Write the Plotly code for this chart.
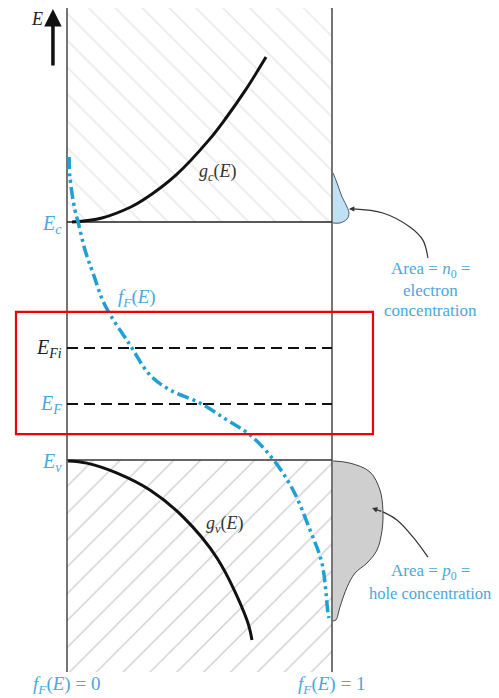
import plotly.graph_objects as go

# Energy scale: E_v = 0, E_c = 1 (arbitrary units); x = f_F(E) / g(E) scale, 0..1
E_c = 1.0
E_v = 0.0
E_Fi = 0.4706
E_F = 0.2353
E_top = 1.899
E_bot = -0.891

# Fermi-Dirac function f_F(E)
fF_E = [1.273, 1.189, 1.050, 1.000, 0.882, 0.786, 0.651, 0.483, 0.357, 0.294, 0.239,
        0.168, 0.105, 0.004, -0.126, -0.294, -0.433, -0.643, -0.664]
fF_x = [0.008, 0.011, 0.030, 0.042, 0.068, 0.098, 0.143, 0.238, 0.313, 0.389, 0.502,
        0.604, 0.691, 0.777, 0.853, 0.917, 0.962, 0.985, 0.989]

# Density of states g_c(E), g_v(E)
gc_E = [1.000, 1.017, 1.063, 1.092, 1.197, 1.345, 1.437, 1.555, 1.693]
gc_x = [0.019, 0.132, 0.241, 0.287, 0.411, 0.536, 0.600, 0.674, 0.751]
gv_E = [-0.004, -0.013, -0.055, -0.126, -0.239, -0.412, -0.672, -0.756]
gv_x = [0.004, 0.075, 0.189, 0.313, 0.438, 0.566, 0.679, 0.698]

# n0 (electron) and p0 (hole) areas outside f_F = 1
n0_E = [1.206, 1.164, 1.105, 1.063, 1.038, 1.013, 0.996, 0.996]
n0_x = [1.004, 1.019, 1.038, 1.057, 1.064, 1.057, 1.030, 1.004]
p0_E = [-0.004, -0.013, -0.050, -0.126, -0.210, -0.294, -0.378, -0.433, -0.475,
        -0.534, -0.618, -0.672, -0.676]
p0_x = [1.004, 1.068, 1.143, 1.181, 1.192, 1.189, 1.170, 1.132, 1.087, 1.057,
        1.030, 1.015, 1.004]

# leader lines
n0_lead_x = [1.362, 1.343, 1.294, 1.192, 1.079]
n0_lead_E = [0.849, 0.924, 0.979, 1.038, 1.055]
p0_lead_x = [1.362, 1.306, 1.245, 1.192]
p0_lead_E = [-0.408, -0.324, -0.252, -0.218]

BLUE = "#1f9fd4"
TXTBLUE = "#4aa8dc"
SERIF = "Liberation Serif"

fig = go.Figure()

# hatched band regions
fig.add_trace(go.Scatter(x=[0, 1, 1, 0, 0], y=[E_c, E_c, E_top, E_top, E_c],
                         fill="toself", mode="none",
                         fillpattern=dict(shape="\\", size=19, solidity=0.1,
                                          fgcolor="#d8d8d8", bgcolor="white"),
                         hoverinfo="skip"))
fig.add_trace(go.Scatter(x=[0, 1, 1, 0, 0], y=[E_bot, E_bot, E_v, E_v, E_bot],
                         fill="toself", mode="none",
                         fillpattern=dict(shape="/", size=19, solidity=0.07,
                                          fgcolor="#9c9c9c", bgcolor="white"),
                         hoverinfo="skip"))

# vertical frame lines
for xv in [0, 1]:
    fig.add_trace(go.Scatter(x=[xv, xv], y=[E_bot, E_top], mode="lines",
                             line=dict(color="#3a3a3a", width=1.4), hoverinfo="skip"))

# Ec and Ev lines
fig.add_trace(go.Scatter(x=[0, 1], y=[E_c, E_c], mode="lines",
                         line=dict(color="#222", width=1.4), hoverinfo="skip"))
fig.add_trace(go.Scatter(x=[0, 1], y=[E_v, E_v], mode="lines",
                         line=dict(color="#333", width=1.4), hoverinfo="skip"))

# EFi and EF dashed
for ev in [E_Fi, E_F]:
    fig.add_trace(go.Scatter(x=[0, 1], y=[ev, ev], mode="lines",
                             line=dict(color="#111", width=2.2, dash="11px,6px"),
                             hoverinfo="skip"))

# areas
fig.add_trace(go.Scatter(x=n0_x, y=n0_E, fill="toself", mode="lines",
                         line=dict(color="#556", width=1, shape="spline"),
                         fillcolor="#bfe1f4", hoverinfo="skip"))
fig.add_trace(go.Scatter(x=p0_x, y=p0_E, fill="toself", mode="lines",
                         line=dict(color="#444", width=1, shape="spline"),
                         fillcolor="#cfcfcf", hoverinfo="skip"))

# density of states
fig.add_trace(go.Scatter(x=gc_x, y=gc_E, mode="lines",
                         line=dict(color="#111", width=3, shape="spline"), hoverinfo="skip"))
fig.add_trace(go.Scatter(x=gv_x, y=gv_E, mode="lines",
                         line=dict(color="#111", width=3, shape="spline"), hoverinfo="skip"))

# Fermi function
fig.add_trace(go.Scatter(x=fF_x, y=fF_E, mode="lines",
                         line=dict(color=BLUE, width=3.5, shape="spline",
                                   dash="12px,4px,3px,4px,3px,4px"),
                         hoverinfo="skip"))

# leader lines
fig.add_trace(go.Scatter(x=n0_lead_x, y=n0_lead_E, mode="lines",
                         line=dict(color="#333", width=1.2, shape="spline"), hoverinfo="skip"))
fig.add_trace(go.Scatter(x=p0_lead_x, y=p0_lead_E, mode="lines",
                         line=dict(color="#333", width=1.2, shape="spline"), hoverinfo="skip"))

ann = []
# arrowheads of leader lines
ann.append(dict(x=1.064, y=1.055, ax=1.079, ay=1.055, xref="x", yref="y", axref="x", ayref="y",
                showarrow=True, arrowhead=2, arrowsize=0.9, arrowwidth=1.2, arrowcolor="#333", text=""))
ann.append(dict(x=1.151, y=-0.202, ax=1.192, ay=-0.218, xref="x", yref="y", axref="x", ayref="y",
                showarrow=True, arrowhead=2, arrowsize=0.9, arrowwidth=1.2, arrowcolor="#333", text=""))
# E axis arrow
ann.append(dict(x=-0.053, y=1.895, ax=-0.053, ay=1.651, xref="x", yref="y", axref="x", ayref="y",
                showarrow=True, arrowhead=2, arrowsize=1.0, arrowwidth=3.5, arrowcolor="#111", text=""))


def label(x, y, text, color, size=17, xanchor="center"):
    ann.append(dict(x=x, y=y, xref="x", yref="y", text=text, showarrow=False,
                    font=dict(family=SERIF, size=size, color=color), xanchor=xanchor,
                    yanchor="middle"))


label(-0.115, 1.855, "<i>E</i>", "#222", size=18)
label(-0.011, 0.99, "<i>E<sub>c</sub></i>", TXTBLUE, size=20, xanchor="right")
label(-0.011, 0.47, "<i>E<sub>Fi</sub></i>", "#222", size=20, xanchor="right")
label(-0.011, 0.235, "<i>E<sub>F</sub></i>", TXTBLUE, size=20, xanchor="right")
label(-0.011, -0.01, "<i>E<sub>v</sub></i>", TXTBLUE, size=20, xanchor="right")
label(0.57, 1.21, "<i>g<sub>c</sub></i>(<i>E</i>)", "#333", size=18)
label(0.596, -0.273, "<i>g<sub>v</sub></i>(<i>E</i>)", "#333", size=18)
label(0.264, 0.68, "<i>f<sub>F</sub></i>(<i>E</i>)", TXTBLUE, size=19)
label(0.0, -0.944, "<i>f<sub>F</sub></i>(<i>E</i>) = 0", TXTBLUE, size=19)
label(1.0, -0.944, "<i>f<sub>F</sub></i>(<i>E</i>) = 1", TXTBLUE, size=19)
label(1.37, 0.80, "Area = <i>n</i><sub>0</sub> =", TXTBLUE, size=17)
label(1.37, 0.714, "electron", TXTBLUE, size=17)
label(1.37, 0.63, "concentration", TXTBLUE, size=17)
label(1.37, -0.47, "Area = <i>p</i><sub>0</sub> =", TXTBLUE, size=17)
label(1.37, -0.56, "hole concentration", TXTBLUE, size=16.5)

# page body has an 8px margin: ranges are chosen so the drawing lands where the reference has it
fig.update_layout(
    width=499, height=698,
    margin=dict(l=0, r=0, t=0, b=0),
    paper_bgcolor="white", plot_bgcolor="white",
    showlegend=False,
    xaxis=dict(range=[-0.2226, 1.6604], visible=False, fixedrange=True),
    yaxis=dict(range=[-1.0336, 1.8992], visible=False, fixedrange=True),
    annotations=ann,
    shapes=[dict(type="rect", xref="x", yref="y", x0=-0.1925, x1=1.1547, y0=0.109, y1=0.622,
                 line=dict(color="#f00000", width=2.2), fillcolor="rgba(0,0,0,0)")],
)

fig.write_html("out.html")
